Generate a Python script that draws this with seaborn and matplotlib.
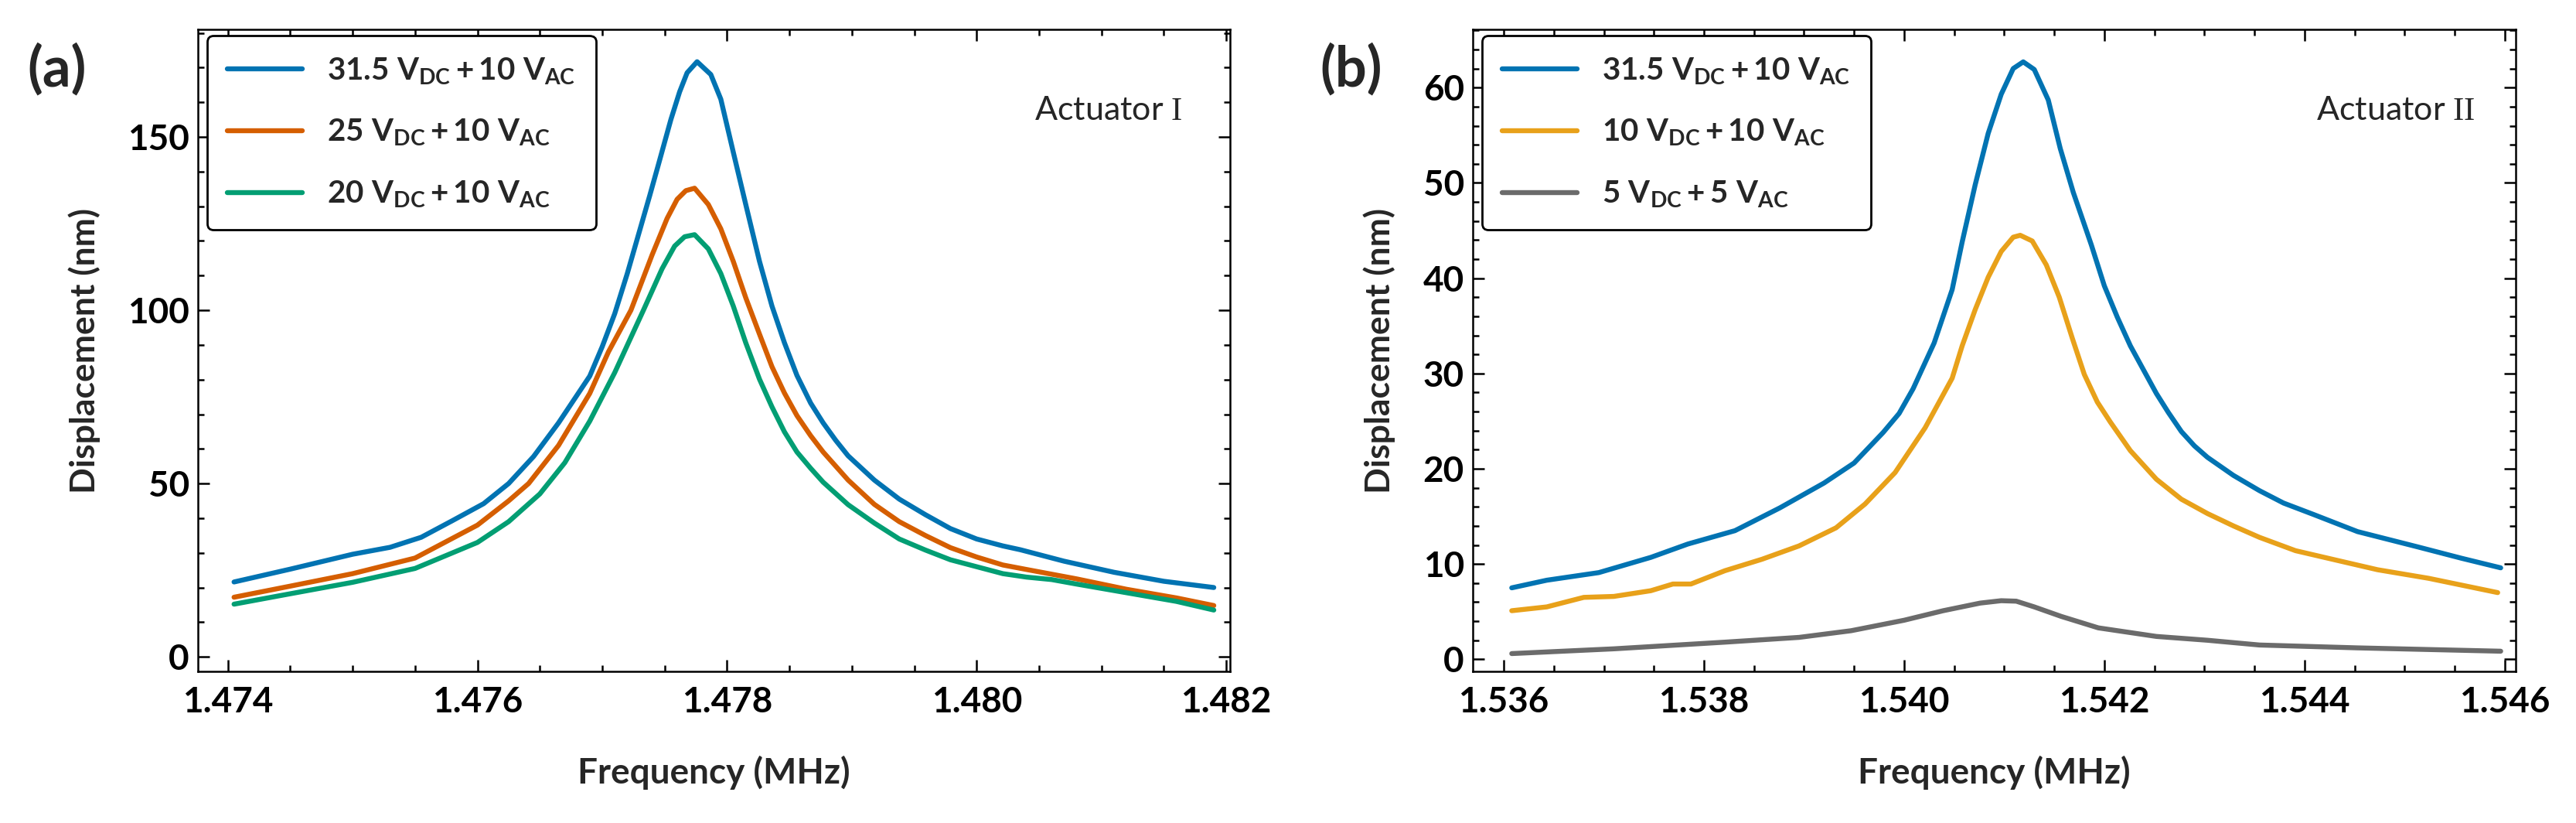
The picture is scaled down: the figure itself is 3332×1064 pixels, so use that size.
import matplotlib
matplotlib.use("Agg")
import matplotlib.pyplot as plt
import seaborn as sns
import pandas as pd
from matplotlib.ticker import MultipleLocator, FormatStrFormatter

# values (frequency in MHz, displacement in nm)
# panel (a), actuator I
f_a_315 = [1.47405, 1.47450, 1.47500, 1.47530, 1.47555, 1.47580, 1.47605, 1.47625, 1.47645, 1.47665,
           1.47690, 1.47700, 1.47710, 1.47720, 1.47730, 1.47738, 1.47745, 1.47755, 1.47762, 1.47768,
           1.47776, 1.47787, 1.47795, 1.47805, 1.47815, 1.47826, 1.47836, 1.47846, 1.47856, 1.47867,
           1.47877, 1.47887, 1.47897, 1.47918, 1.47938, 1.47959, 1.47979, 1.48000, 1.48021, 1.48035,
           1.48070, 1.48110, 1.48150, 1.48190]
d_a_315 = [21.6, 25.3, 29.6, 31.6, 34.5, 39.3, 44.2, 50.0, 57.8, 67.5,
           81.0, 89.5, 99.0, 110.5, 123.0, 133.0, 142.0, 155.0, 163.0, 168.5,
           171.7, 168.0, 160.9, 145.6, 130.5, 114.1, 101.2, 90.6, 81.2, 73.2,
           67.5, 62.5, 58.0, 51.0, 45.5, 41.0, 37.0, 34.0, 32.0, 30.9,
           27.6, 24.4, 21.8, 20.0]

f_a_25 = [1.47405, 1.47450, 1.47500, 1.47550, 1.47600, 1.47625, 1.47641, 1.47665, 1.47690, 1.47705,
          1.47723, 1.47740, 1.47752, 1.47760, 1.47767, 1.47774, 1.47785, 1.47795, 1.47805, 1.47815,
          1.47826, 1.47836, 1.47846, 1.47856, 1.47867, 1.47877, 1.47897, 1.47918, 1.47938, 1.47959,
          1.47979, 1.48000, 1.48021, 1.48040, 1.48080, 1.48120, 1.48160, 1.48190]
d_a_25 = [17.2, 20.4, 24.0, 28.5, 38.0, 45.0, 50.0, 61.0, 76.0, 88.0,
          100.0, 116.0, 126.5, 132.0, 134.5, 135.2, 130.5, 123.5, 114.1, 103.6,
          93.1, 83.7, 76.1, 69.6, 63.8, 59.1, 51.0, 44.0, 39.0, 35.0,
          31.5, 28.8, 26.5, 25.2, 22.5, 19.5, 17.0, 14.8]

f_a_20 = [1.47405, 1.47450, 1.47500, 1.47550, 1.47600, 1.47625, 1.47650, 1.47670, 1.47690, 1.47710,
          1.47733, 1.47748, 1.47758, 1.47766, 1.47774, 1.47785, 1.47795, 1.47805, 1.47815, 1.47826,
          1.47836, 1.47846, 1.47856, 1.47867, 1.47877, 1.47897, 1.47918, 1.47938, 1.47959, 1.47979,
          1.48000, 1.48021, 1.48040, 1.48060, 1.48080, 1.48120, 1.48160, 1.48190]
d_a_20 = [15.2, 18.2, 21.5, 25.5, 33.0, 39.0, 47.0, 56.0, 68.0, 82.0,
          100.0, 112.0, 118.5, 121.2, 121.8, 117.7, 110.6, 101.2, 90.6, 80.1,
          72.1, 64.9, 59.1, 54.4, 50.4, 43.9, 38.6, 34.0, 30.8, 28.0,
          26.0, 24.0, 23.0, 22.3, 21.0, 18.5, 16.0, 13.5]

# panel (b), actuator II
f_b_315 = [1.53608, 1.53643, 1.53695, 1.53747, 1.53784, 1.53831, 1.53876, 1.53920, 1.53950, 1.53979,
           1.53995, 1.54009, 1.54030, 1.54048, 1.54058, 1.54071, 1.54084, 1.54097, 1.54109, 1.54119,
           1.54130, 1.54144, 1.54156, 1.54169, 1.54187, 1.54200, 1.54213, 1.54226, 1.54239, 1.54252,
           1.54264, 1.54277, 1.54290, 1.54303, 1.54329, 1.54355, 1.54379, 1.54409, 1.54453, 1.54513,
           1.54557, 1.54596]
d_b_315 = [7.5, 8.3, 9.1, 10.7, 12.1, 13.5, 15.9, 18.5, 20.6, 23.8,
           25.8, 28.4, 33.2, 38.8, 43.8, 49.8, 55.2, 59.3, 62.0, 62.7,
           61.9, 58.7, 53.6, 49.0, 43.5, 39.2, 35.9, 32.9, 30.4, 27.9,
           25.9, 23.9, 22.4, 21.2, 19.3, 17.7, 16.4, 15.2, 13.4, 11.8,
           10.6, 9.6]

f_b_10 = [1.53608, 1.53643, 1.53680, 1.53710, 1.53747, 1.53769, 1.53787, 1.53821, 1.53858, 1.53895,
          1.53932, 1.53961, 1.53991, 1.54021, 1.54048, 1.54058, 1.54071, 1.54084, 1.54097, 1.54109,
          1.54116, 1.54128, 1.54142, 1.54155, 1.54168, 1.54180, 1.54193, 1.54206, 1.54226, 1.54252,
          1.54277, 1.54303, 1.54329, 1.54355, 1.54391, 1.54436, 1.54473, 1.54524, 1.54593]
d_b_10 = [5.1, 5.5, 6.5, 6.6, 7.2, 7.9, 7.9, 9.3, 10.5, 11.9,
          13.8, 16.3, 19.6, 24.3, 29.5, 32.9, 36.7, 40.1, 42.8, 44.3,
          44.5, 43.9, 41.4, 38.0, 33.7, 29.9, 27.0, 24.9, 21.9, 18.9,
          16.8, 15.3, 14.0, 12.8, 11.4, 10.3, 9.4, 8.5, 7.0]

f_b_5 = [1.53608, 1.53710, 1.53821, 1.53895, 1.53947, 1.54000, 1.54039, 1.54076, 1.54097, 1.54112,
         1.54130, 1.54157, 1.54194, 1.54252, 1.54303, 1.54355, 1.54453, 1.54596]
d_b_5 = [0.6, 1.1, 1.8, 2.3, 3.0, 4.1, 5.1, 5.9, 6.15, 6.1,
         5.5, 4.5, 3.3, 2.4, 2.0, 1.5, 1.2, 0.85]

lab_a = [r"$\mathbf{31.5\ V_{DC}+10\ V_{AC}}$",
         r"$\mathbf{25\ V_{DC}+10\ V_{AC}}$",
         r"$\mathbf{20\ V_{DC}+10\ V_{AC}}$"]
lab_b = [r"$\mathbf{31.5\ V_{DC}+10\ V_{AC}}$",
         r"$\mathbf{10\ V_{DC}+10\ V_{AC}}$",
         r"$\mathbf{5\ V_{DC}+5\ V_{AC}}$"]

cb = sns.color_palette("colorblind")
col_a = [cb[0], cb[3], cb[2]]
col_b = [cb[0], "#e8a11a", "#6b6b6b"]


def long_df(pairs, labels):
    parts = []
    for (f, d), lab in zip(pairs, labels):
        parts.append(pd.DataFrame({"freq": f, "disp": d, "series": lab}))
    return pd.concat(parts, ignore_index=True)


df_a = long_df([(f_a_315, d_a_315), (f_a_25, d_a_25), (f_a_20, d_a_20)], lab_a)
df_b = long_df([(f_b_315, d_b_315), (f_b_10, d_b_10), (f_b_5, d_b_5)], lab_b)

sns.set_theme(style="ticks")
plt.rcParams["font.family"] = ["Lato", "DejaVu Sans"]
plt.rcParams["font.weight"] = "bold"
plt.rcParams["mathtext.fontset"] = "custom"
plt.rcParams["mathtext.rm"] = "Liberation Serif:weight=normal"
plt.rcParams["mathtext.bf"] = "Lato:weight=bold"
plt.rcParams["mathtext.it"] = "Lato:style=italic"
plt.rcParams["mathtext.sf"] = "Lato"
plt.rcParams["axes.linewidth"] = 1.8
plt.rcParams["axes.edgecolor"] = "black"

fig = plt.figure(figsize=(33.32, 10.64), dpi=100)
ax_a = fig.add_axes([0.0768, 0.1842, 0.4007, 0.780])
ax_b = fig.add_axes([0.5717, 0.1842, 0.4049, 0.780])

panels = [
    (ax_a, df_a, lab_a, col_a, (1.47376, 1.48203), (-4.2, 181), 50, 10, r"$\mathrm{I}$", 0.954, -0.094),
    (ax_b, df_b, lab_b, col_b, (1.53569, 1.54611), (-1.27, 66.1), 10, 2, r"$\mathrm{II}$", 0.961, -0.074),
]

for ax, df, labs, cols, xl, yl, ymaj, ymin, num, tx, ylx in panels:
    sns.lineplot(data=df, x="freq", y="disp", hue="series", hue_order=labs,
                 palette=dict(zip(labs, cols)), linewidth=4.6, sort=False,
                 estimator=None, ax=ax, legend=False)
    ax.set_xlim(*xl)
    ax.set_ylim(*yl)
    ax.xaxis.set_major_locator(MultipleLocator(0.002))
    ax.xaxis.set_minor_locator(MultipleLocator(0.0005))
    ax.xaxis.set_major_formatter(FormatStrFormatter("%.3f"))
    ax.yaxis.set_major_locator(MultipleLocator(ymaj))
    ax.yaxis.set_minor_locator(MultipleLocator(ymin))
    ax.tick_params(which="both", direction="in", top=True, right=True,
                   width=1.8, colors="black", labelsize=33)
    ax.tick_params(which="major", length=11)
    ax.tick_params(which="minor", length=6)
    ax.tick_params(axis="x", pad=14)
    ax.tick_params(axis="y", pad=8)
    for t in ax.get_xticklabels() + ax.get_yticklabels():
        t.set_fontweight("bold")
    ax.set_xlabel("Frequency (MHz)", fontsize=33, fontweight="bold")
    ax.set_ylabel("Displacement (nm)", fontsize=32, fontweight="bold")
    ax.xaxis.set_label_coords(0.5, -0.131)
    ax.yaxis.set_label_coords(ylx, 0.5)

    handles = [plt.Line2D([], [], color=c, lw=4.6) for c in cols]
    leg = ax.legend(handles, labs, loc="upper left", bbox_to_anchor=(0.009, 0.99),
                    borderaxespad=0, fontsize=29, frameon=True, fancybox=True,
                    framealpha=1, edgecolor="black", handlelength=2.4,
                    handletextpad=0.8, labelspacing=1.0, borderpad=0.65)
    leg.get_frame().set_linewidth(2.0)

    ax.text(tx, 0.873, "Actuator " + num, transform=ax.transAxes, ha="right", va="center",
            fontsize=31, fontweight="normal")

fig.text(74 / 3332, 1 - 90 / 1064, "(a)", fontsize=52, ha="center", va="center", fontweight="bold")
fig.text(1748 / 3332, 1 - 90 / 1064, "(b)", fontsize=52, ha="center", va="center", fontweight="bold")

fig.savefig("out.png", dpi=100, facecolor="white")
